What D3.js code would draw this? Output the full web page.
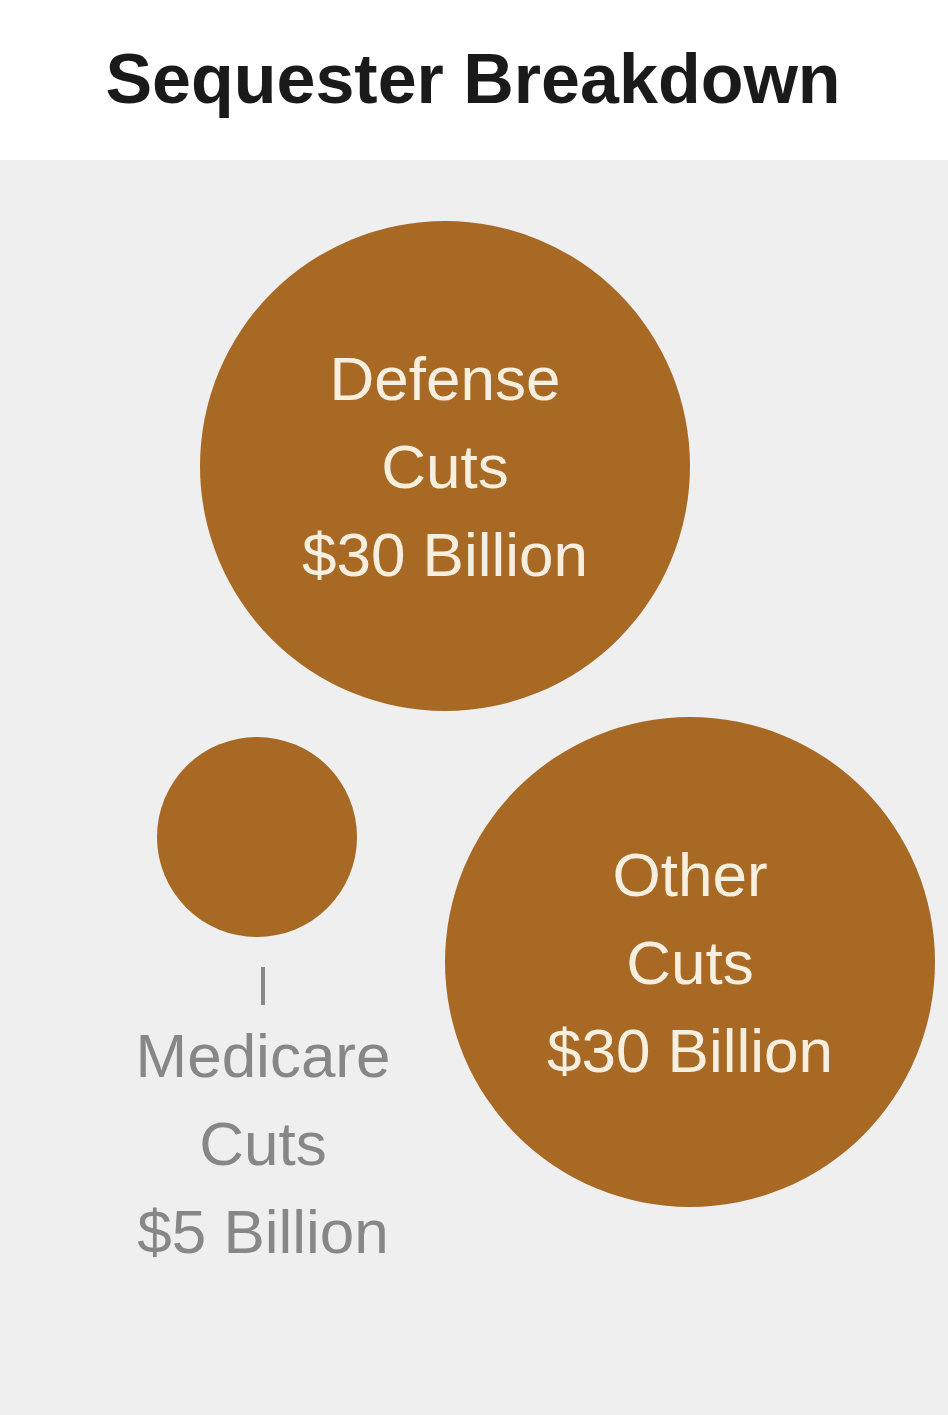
<!DOCTYPE html>
<html>
<head>
<meta charset="utf-8">
<script src="https://cdn.jsdelivr.net/npm/d3@7"></script>
<style>
  body { margin: 0; background: #fff; }
  text { font-family: "Liberation Sans Narrow", "Liberation Sans", Arial, sans-serif; }
</style>
</head>
<body>
<div id="chart"></div>
<script>
// data
var categories = ["Defense Cuts", "Medicare Cuts", "Other Cuts"];
var values = [30, 5, 30]; // billions of dollars

var svgWidth = 948;
var svgHeight = 1415;

var svg = d3.select("#chart")
  .append("svg")
  .attr("width", svgWidth)
  .attr("height", svgHeight);

// grey panel under the title
svg.append("rect")
  .attr("x", 0).attr("y", 160)
  .attr("width", svgWidth).attr("height", svgHeight - 160)
  .attr("fill", "#efefef");

svg.append("text")
  .attr("x", 473).attr("y", 103)
  .attr("text-anchor", "middle")
  .attr("font-size", 70)
  .attr("font-weight", "bold")
  .attr("fill", "#1a1a1a")
  .text("Sequester Breakdown");

// area-proportional radius
var rScale = d3.scaleSqrt().domain([0, 30]).range([0, 245]);

// circle centres (layout)
var centers = [[445, 466], [257, 837], [690, 962]];

var nodes = categories.map((c, i) => ({
  name: c, value: values[i], cx: centers[i][0], cy: centers[i][1]
}));

svg.selectAll("circle")
  .data(nodes)
  .enter()
  .append("circle")
  .attr("cx", d => d.cx)
  .attr("cy", d => d.cy)
  .attr("r", d => rScale(d.value))
  .attr("fill", "#a86924");

nodes.forEach(function(d) {
  var words = d.name.split(" ");
  var lines = [words[0], words[1], "$" + d.value + " Billion"];
  var r = rScale(d.value);
  var inside = r > 150;
  var g = svg.append("g");
  if (inside) {
    lines.forEach(function(l, i) {
      g.append("text")
        .attr("x", d.cx)
        .attr("y", d.cy - 66 + i * 88)
        .attr("text-anchor", "middle")
        .attr("font-size", 62)
        .attr("fill", "#f6eede")
        .text(l);
    });
  } else {
    // label below the small circle with a leader tick
    g.append("line")
      .attr("x1", d.cx + 6).attr("x2", d.cx + 6)
      .attr("y1", d.cy + r + 30).attr("y2", d.cy + r + 68)
      .attr("stroke", "#888").attr("stroke-width", 4);
    lines.forEach(function(l, i) {
      g.append("text")
        .attr("x", d.cx + 6)
        .attr("y", d.cy + r + 140 + i * 88)
        .attr("text-anchor", "middle")
        .attr("font-size", 62)
        .attr("fill", "#878787")
        .text(l);
    });
  }
});
</script>
</body>
</html>
